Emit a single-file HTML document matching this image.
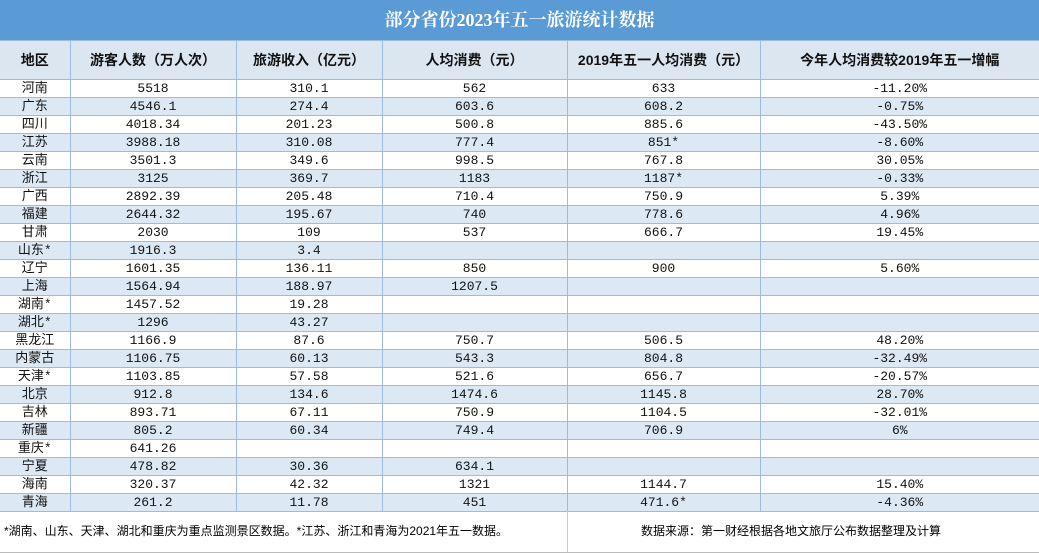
<!DOCTYPE html>
<html><head><meta charset="utf-8"><style>
body{margin:0;width:1039px;height:553px;background:#fff;overflow:hidden;font-family:"Liberation Mono","Noto Sans CJK SC",monospace;}
.title{height:40px;background:#5b9bd5;color:#fff;text-align:center;line-height:40px;font-size:18px;font-weight:bold;font-family:"Liberation Serif","Noto Serif CJK SC",serif;}
table{border-collapse:collapse;table-layout:fixed;width:1039px;position:absolute;top:40px;left:0;}
td{border-right:1px solid #9dbbdd;border-bottom:1px solid #9dbbdd;padding:0;text-align:center;font-size:13px;color:#111;height:17px;line-height:17px;overflow:hidden;white-space:nowrap;}
tr.h td{height:38px;background:#dce6f1;font-weight:bold;font-size:14px;font-family:"Liberation Sans","Noto Sans CJK SC",sans-serif;border-top:1px solid #9dbbdd}
tr:nth-child(odd):not(.h) td{background:#dde8f5}
td:last-child{border-right:none}
.foot{position:absolute;top:511px;left:0;width:1039px;height:41px;border-bottom:1px solid #bbb;font-size:12px;font-family:"Liberation Sans","Noto Sans CJK SC",sans-serif;}
.foot div{position:absolute;top:0;height:41px;line-height:41px;}
</style></head><body>
<div class="title">部分省份2023年五一旅游统计数据</div>
<table>
<colgroup><col style="width:70px"><col style="width:166px"><col style="width:146px"><col style="width:185px"><col style="width:193px"><col style="width:279px"></colgroup>
<tr class="h"><td>地区</td><td>游客人数（万人次）</td><td>旅游收入（亿元）</td><td>人均消费（元）</td><td>2019年五一人均消费（元）</td><td>今年人均消费较2019年五一增幅</td></tr>
<tr><td>河南</td><td>5518</td><td>310.1</td><td>562</td><td>633</td><td>-11.20%</td></tr>
<tr><td>广东</td><td>4546.1</td><td>274.4</td><td>603.6</td><td>608.2</td><td>-0.75%</td></tr>
<tr><td>四川</td><td>4018.34</td><td>201.23</td><td>500.8</td><td>885.6</td><td>-43.50%</td></tr>
<tr><td>江苏</td><td>3988.18</td><td>310.08</td><td>777.4</td><td>851*</td><td>-8.60%</td></tr>
<tr><td>云南</td><td>3501.3</td><td>349.6</td><td>998.5</td><td>767.8</td><td>30.05%</td></tr>
<tr><td>浙江</td><td>3125</td><td>369.7</td><td>1183</td><td>1187*</td><td>-0.33%</td></tr>
<tr><td>广西</td><td>2892.39</td><td>205.48</td><td>710.4</td><td>750.9</td><td>5.39%</td></tr>
<tr><td>福建</td><td>2644.32</td><td>195.67</td><td>740</td><td>778.6</td><td>4.96%</td></tr>
<tr><td>甘肃</td><td>2030</td><td>109</td><td>537</td><td>666.7</td><td>19.45%</td></tr>
<tr><td>山东*</td><td>1916.3</td><td>3.4</td><td></td><td></td><td></td></tr>
<tr><td>辽宁</td><td>1601.35</td><td>136.11</td><td>850</td><td>900</td><td>5.60%</td></tr>
<tr><td>上海</td><td>1564.94</td><td>188.97</td><td>1207.5</td><td></td><td></td></tr>
<tr><td>湖南*</td><td>1457.52</td><td>19.28</td><td></td><td></td><td></td></tr>
<tr><td>湖北*</td><td>1296</td><td>43.27</td><td></td><td></td><td></td></tr>
<tr><td>黑龙江</td><td>1166.9</td><td>87.6</td><td>750.7</td><td>506.5</td><td>48.20%</td></tr>
<tr><td>内蒙古</td><td>1106.75</td><td>60.13</td><td>543.3</td><td>804.8</td><td>-32.49%</td></tr>
<tr><td>天津*</td><td>1103.85</td><td>57.58</td><td>521.6</td><td>656.7</td><td>-20.57%</td></tr>
<tr><td>北京</td><td>912.8</td><td>134.6</td><td>1474.6</td><td>1145.8</td><td>28.70%</td></tr>
<tr><td>吉林</td><td>893.71</td><td>67.11</td><td>750.9</td><td>1104.5</td><td>-32.01%</td></tr>
<tr><td>新疆</td><td>805.2</td><td>60.34</td><td>749.4</td><td>706.9</td><td>6%</td></tr>
<tr><td>重庆*</td><td>641.26</td><td></td><td></td><td></td><td></td></tr>
<tr><td>宁夏</td><td>478.82</td><td>30.36</td><td>634.1</td><td></td><td></td></tr>
<tr><td>海南</td><td>320.37</td><td>42.32</td><td>1321</td><td>1144.7</td><td>15.40%</td></tr>
<tr><td>青海</td><td>261.2</td><td>11.78</td><td>451</td><td>471.6*</td><td>-4.36%</td></tr>
</table>
<div class="foot">
<div style="left:4px">*湖南、山东、天津、湖北和重庆为重点监测景区数据。*江苏、浙江和青海为2021年五一数据。</div>
<div style="left:567px;width:1px;background:#ccc"></div>
<div style="left:641px">数据来源：第一财经根据各地文旅厅公布数据整理及计算</div>
</div>
</body></html>
